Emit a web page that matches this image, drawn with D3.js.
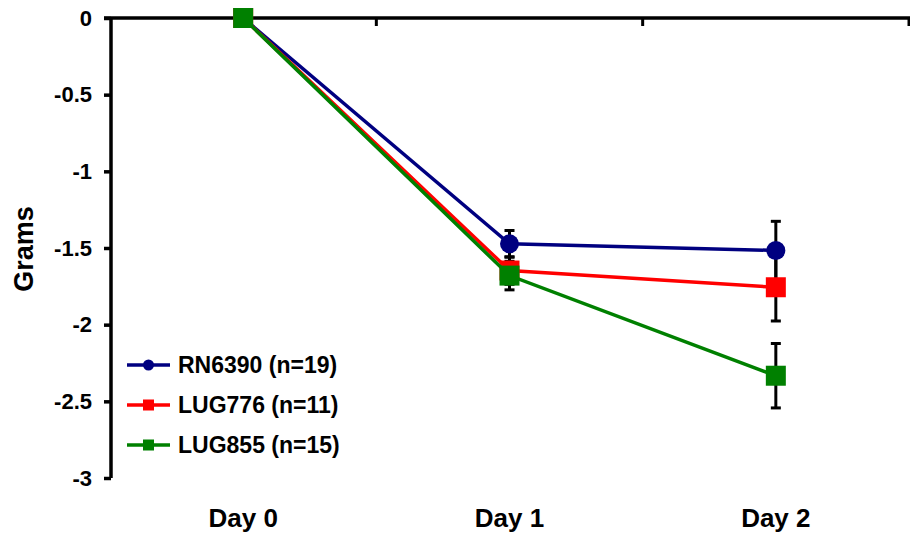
<!DOCTYPE html>
<html>
<head>
<meta charset="utf-8">
<script src="https://cdn.jsdelivr.net/npm/d3@7"></script>
<style>
  body { margin: 0; background: #fff; }
  svg { font-family: "Liberation Sans", Arial, sans-serif; font-weight: bold; }
</style>
</head>
<body>
<div id="chart"></div>
<script>
// data
var days = ["Day 0", "Day 1", "Day 2"];
var yTicks = [0, -0.5, -1, -1.5, -2, -2.5, -3];

var rn6390 = [0, -1.473, -1.516];
var rn6390Err = [0, 0.087, 0.19];
var lug776 = [0, -1.647, -1.756];
var lug776Err = [0, 0.09, 0.22];
var lug855 = [0, -1.68, -2.333];
var lug855Err = [0, 0.093, 0.21];

var seriesNames = ["RN6390 (n=19)", "LUG776 (n=11)", "LUG855 (n=15)"];

var series = [
    { name: seriesNames[0], values: rn6390, err: rn6390Err, color: "#000080", shape: "circle" },
    { name: seriesNames[1], values: lug776, err: lug776Err, color: "#ff0000", shape: "square" },
    { name: seriesNames[2], values: lug855, err: lug855Err, color: "#008000", shape: "square" }
];

var svg = d3.select("#chart").append("svg")
    .attr("width", 910)
    .attr("height", 536);

var x = d3.scaleBand().domain(days).range([110, 909]);
var y = d3.scaleLinear().domain([-3, 0]).range([478, 18]);
var cx = function(i) { return x(days[i]) + x.bandwidth() / 2; };

// y axis
var yAxis = svg.append("g")
    .attr("transform", "translate(111,0)")
    .call(d3.axisLeft(y).tickValues(yTicks).tickSize(7).tickPadding(12)
        .tickFormat(function(d) { return d; }));
yAxis.select(".domain").attr("stroke-width", 3.5).attr("d", "M0," + y(-3) + "V" + y(0));
yAxis.selectAll(".tick line").attr("stroke-width", 3.5);
yAxis.selectAll(".tick text")
    .style("font-size", "22px").style("font-weight", "bold").attr("fill", "#000");

// x axis at the zero line, ticks between the days
var xAxisG = svg.append("g");
xAxisG.append("line")
    .attr("x1", 104).attr("x2", 910)
    .attr("y1", y(0)).attr("y2", y(0))
    .attr("stroke", "#000").attr("stroke-width", 3.5);
xAxisG.selectAll(".xtick")
    .data(days)
    .enter().append("line")
    .attr("x1", function(d) { return x(d) + x.bandwidth(); })
    .attr("x2", function(d) { return x(d) + x.bandwidth(); })
    .attr("y1", y(0)).attr("y2", y(0) + 8)
    .attr("stroke", "#000").attr("stroke-width", 3);

svg.selectAll(".daylabel")
    .data(days)
    .enter().append("text")
    .attr("x", function(d) { return x(d) + x.bandwidth() / 2; })
    .attr("y", 527)
    .attr("text-anchor", "middle")
    .style("font-size", "26px")
    .text(function(d) { return d; });

// y title
svg.append("text")
    .attr("transform", "translate(33,249) rotate(-90)")
    .attr("text-anchor", "middle")
    .style("font-size", "27px")
    .text("Grams");

// error bars behind the markers
series.forEach(function(s) {
    var g = svg.append("g").attr("stroke", "#000").attr("stroke-width", 3);
    s.values.forEach(function(v, i) {
        if (!s.err[i]) return;
        var x0 = cx(i);
        g.append("line").attr("x1", x0).attr("x2", x0)
            .attr("y1", y(v + s.err[i])).attr("y2", y(v - s.err[i]));
        g.append("line").attr("x1", x0 - 5).attr("x2", x0 + 5)
            .attr("y1", y(v + s.err[i])).attr("y2", y(v + s.err[i]));
        g.append("line").attr("x1", x0 - 5).attr("x2", x0 + 5)
            .attr("y1", y(v - s.err[i])).attr("y2", y(v - s.err[i]));
    });
});

var line = d3.line()
    .x(function(d, i) { return cx(i); })
    .y(function(d) { return y(d); });

function marker(g, shape, color, px, py, size) {
    if (shape === "circle") {
        g.append("circle").attr("cx", px).attr("cy", py).attr("r", size / 2).attr("fill", color);
    } else {
        g.append("rect").attr("x", px - size / 2).attr("y", py - size / 2)
            .attr("width", size).attr("height", size).attr("fill", color);
    }
}

series.forEach(function(s) {
    var g = svg.append("g");
    g.append("path")
        .datum(s.values)
        .attr("d", line)
        .attr("fill", "none")
        .attr("stroke", s.color)
        .attr("stroke-width", 3.5);
    s.values.forEach(function(v, i) {
        marker(g, s.shape, s.color, cx(i), y(v), s.shape === "circle" ? 19 : 20);
    });
});

// legend
var legend = svg.append("g").attr("transform", "translate(127,365)");
series.forEach(function(s, i) {
    var row = legend.append("g").attr("transform", "translate(0," + i * 40 + ")");
    row.append("line").attr("x1", 0).attr("x2", 43).attr("y1", 0).attr("y2", 0)
        .attr("stroke", s.color).attr("stroke-width", 3.5);
    marker(row, s.shape, s.color, 21.5, 0, 11);
    row.append("text")
        .attr("x", 51).attr("y", 8)
        .style("font-size", "23px")
        .text(s.name);
});
</script>
</body>
</html>
